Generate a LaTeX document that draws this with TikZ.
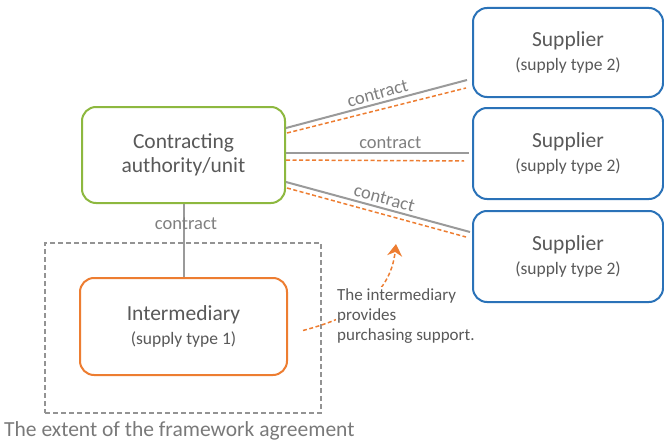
\documentclass[tikz,border=0pt]{standalone}
\usepackage{fontspec}
\setmainfont{Carlito}
\usetikzlibrary{arrows.meta,calc}
\definecolor{cagreen}{HTML}{8DB83F}
\definecolor{supblue}{HTML}{2A72B8}
\definecolor{intorange}{HTML}{ED7D31}
\definecolor{linegray}{HTML}{9A9A9A}
\definecolor{txtgray}{HTML}{595959}
\definecolor{lblgray}{HTML}{7F7F7F}
\tikzset{
  box/.style={draw, line width=2pt, rounded corners=14pt, fill=white, text=txtgray, align=center, inner sep=0pt},
  mainfont/.style={font=\fontsize{21.5}{24}\selectfont},
  contractline/.style={draw=linegray, line width=2pt},
  supportline/.style={draw=intorange, line width=1.5pt, dash pattern=on 4pt off 2.5pt},
  lbl/.style={text=lblgray, font=\fontsize{18.5}{20}\selectfont, inner sep=1pt},
}
\newcommand{\subtxt}[1]{{\fontsize{17.5}{20}\selectfont #1}}
\begin{document}
\begin{tikzpicture}[x=1pt,y=-1pt]
\useasboundingbox (0,0) rectangle (664,444);
% framework extent
\node[draw=gray!85, line width=2pt, dash pattern=on 5pt off 3pt, minimum width=276pt, minimum height=170pt, inner sep=0pt] (fw) at (183,328) {};
\node[text=gray!95!black, font=\fontsize{21.5}{24}\selectfont, anchor=west, inner sep=0pt] (fwl) at (4,431) {The extent of the framework agreement};
% intermediary and support arrow
\node[box, draw=intorange, minimum width=207pt, minimum height=97pt, mainfont] (im) at (183.5,326.5) {Intermediary\\\subtxt{(supply type 1)}};
\coordinate (sa) at ($(im.east)+(15,4)$);
\coordinate (se) at (396,244);
\draw[supportline, -{Stealth[length=12pt,width=15pt,inset=4pt]}] (sa) .. controls (350,318) and (390,298) .. (se);
\node[fill=white, text=txtgray, align=left, anchor=north west, inner sep=1pt, font=\fontsize{17}{20}\selectfont] (st) at (336,287) {The intermediary\\provides\\purchasing support.};
% other nodes
\node[box, draw=cagreen, minimum width=203pt, minimum height=96pt, mainfont] (ca) at (183.5,155) {Contracting\\authority/unit};
\node[box, draw=supblue, minimum width=190pt, minimum height=89pt, mainfont] (s1) at (568,52.5) {Supplier\\\subtxt{(supply type 2)}};
\node[box, draw=supblue, minimum width=190pt, minimum height=91pt, mainfont] (s2) at (568,153.5) {Supplier\\\subtxt{(supply type 2)}};
\node[box, draw=supblue, minimum width=190pt, minimum height=91pt, mainfont] (s3) at (568,256.5) {Supplier\\\subtxt{(supply type 2)}};
% coordinates at line ends
\coordinate (a1) at ($(ca.east)+(0,-27)$);
\coordinate (b1) at ($(s1.west)+(-5,27.5)$);
\coordinate (a1o) at ($(ca.east)+(1,-22)$);
\coordinate (b1o) at ($(s1.west)+(-6,35.5)$);
\coordinate (a2) at ($(ca.east)+(0,-2)$);
\coordinate (b2) at ($(s2.west)+(-3,-0.5)$);
\coordinate (a2o) at ($(ca.east)+(0,5)$);
\coordinate (b2o) at ($(s2.west)+(-8,7.5)$);
\coordinate (a3) at ($(ca.east)+(0,27)$);
\coordinate (b3) at ($(s3.west)+(-2,-24.5)$);
\coordinate (a3o) at ($(ca.east)+(1,33)$);
\coordinate (b3o) at ($(s3.west)+(-6,-19.5)$);
% contract lines
\draw[contractline] (a1) -- node[lbl, sloped, above=2pt, pos=0.52] {contract} (b1);
\draw[supportline] (a1o) -- (b1o);
\draw[contractline] (a2) -- node[lbl, above=2pt, pos=0.57] {contract} (b2);
\draw[supportline] (a2o) -- (b2o);
\draw[contractline] (a3) -- node[lbl, sloped, above=2pt, pos=0.52] {contract} (b3);
\draw[supportline] (a3o) -- (b3o);
\draw[contractline] (ca.south) -- (im.north);
\node[lbl] (cl) at (186,224) {contract};
\end{tikzpicture}
\end{document}
